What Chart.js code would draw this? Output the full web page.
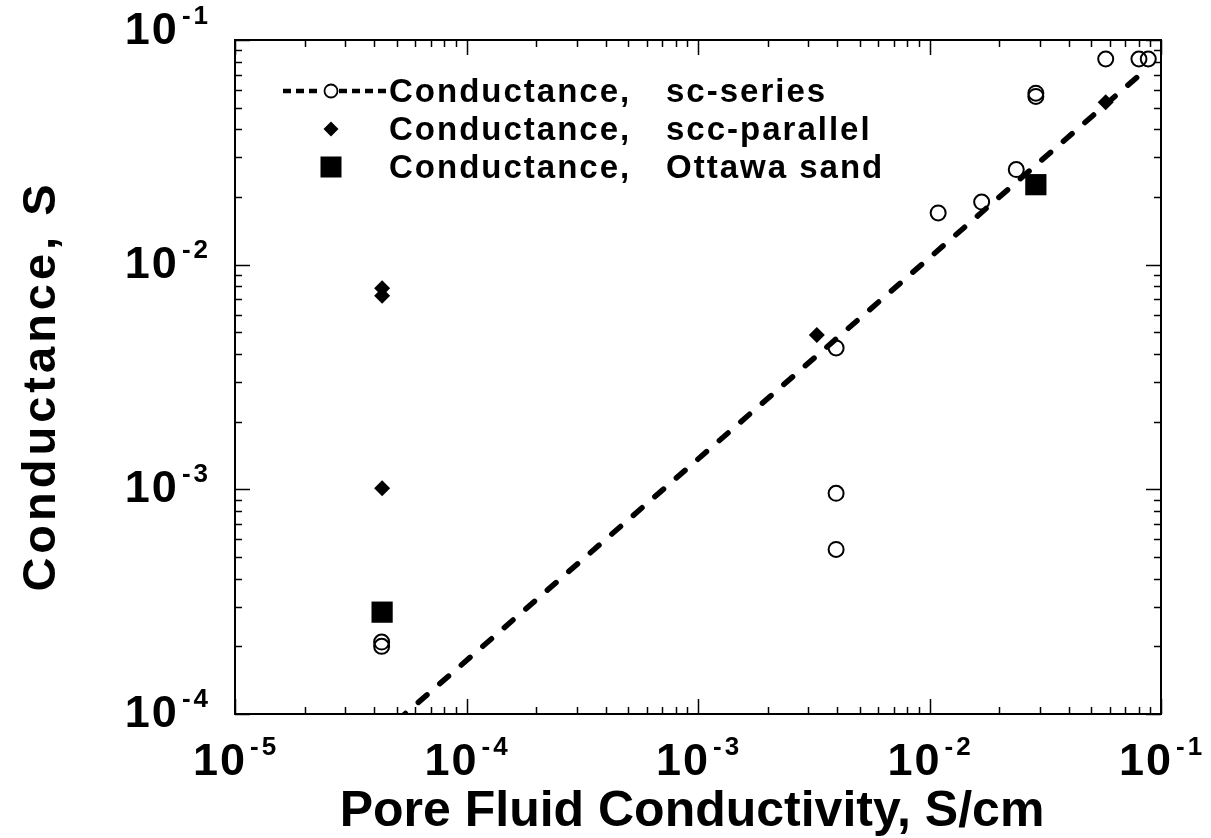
<!DOCTYPE html>
<html>
<head>
<meta charset="utf-8">
<script src="https://cdn.jsdelivr.net/npm/chart.js@4.4.1/dist/chart.umd.min.js"></script>
<style>
html,body{margin:0;padding:0;background:#fff;}
#wrap{width:1211px;height:838px;}
</style>
</head>
<body>
<div id="wrap"><canvas id="c" width="1211" height="838"></canvas></div>
<script>
// ---- data ----
const seriesLabels = ['Conductance,  sc-series', 'Conductance,  scc-parallel', 'Conductance,  Ottawa sand'];
const scX  = [4.3e-5, 4.3e-5, 3.95e-3, 3.95e-3, 3.95e-3, 0.0109, 0.0168, 0.0237, 0.0288, 0.0288, 0.0577, 0.0803, 0.0881];
const scY  = [2.09e-4, 2.0e-4, 4.26e-3, 9.6e-4, 5.4e-4, 0.0170, 0.0190, 0.0265, 0.0580, 0.0561, 0.0823, 0.0823, 0.0823];
const sccX = [4.32e-5, 4.32e-5, 4.32e-5, 3.26e-3, 0.0577];
const sccY = [7.85e-3, 7.28e-3, 1.01e-3, 4.86e-3, 0.0528];
const ottX = [4.32e-5, 0.0288];
const ottY = [2.84e-4, 0.0227];
const fitX = [5.0e-5, 0.085];
const fitY = [9.3e-5, 0.0731];
const xTickExps = [-5, -4, -3, -2, -1];
const yTickExps = [-4, -3, -2, -1];
const xTitle = 'Pore Fluid Conductivity, S/cm';
const yTitle = 'Conductance, S';

const pts = (xs, ys) => xs.map((x, i) => ({x: x, y: ys[i]}));
const FONT = '"Liberation Sans", Arial, Helvetica, sans-serif';

function setSpacing(ctx, px) {
  if ('letterSpacing' in ctx) ctx.letterSpacing = px + 'px';
}

const decorPlugin = {
  id: 'decor',
  afterDraw(chart) {
    const ctx = chart.ctx;
    const a = chart.chartArea;
    const xs = chart.scales.x, ys = chart.scales.y;
    ctx.save();
    ctx.strokeStyle = '#000';
    ctx.fillStyle = '#000';

    // frame
    ctx.lineWidth = 2;
    ctx.strokeRect(a.left, a.top, a.right - a.left, a.bottom - a.top);

    // inward ticks on all four sides
    ctx.lineWidth = 1.5;
    ctx.beginPath();
    for (let e = xTickExps[0]; e <= xTickExps[xTickExps.length - 1]; e++) {
      for (let m = 1; m <= 9; m++) {
        if (e === xTickExps[xTickExps.length - 1] && m > 1) break;
        const px = Math.round(xs.getPixelForValue(m * Math.pow(10, e))) + 0.5;
        const len = m === 1 ? 15 : 7;
        ctx.moveTo(px, a.bottom); ctx.lineTo(px, a.bottom - len);
        ctx.moveTo(px, a.top); ctx.lineTo(px, a.top + len);
      }
    }
    for (let e = yTickExps[0]; e <= yTickExps[yTickExps.length - 1]; e++) {
      for (let m = 1; m <= 9; m++) {
        if (e === yTickExps[yTickExps.length - 1] && m > 1) break;
        const py = Math.round(ys.getPixelForValue(m * Math.pow(10, e))) + 0.5;
        const len = m === 1 ? 15 : 7;
        ctx.moveTo(a.left, py); ctx.lineTo(a.left + len, py);
        ctx.moveTo(a.right, py); ctx.lineTo(a.right - len, py);
      }
    }
    ctx.stroke();

    // tick labels
    ctx.textAlign = 'left';
    ctx.textBaseline = 'alphabetic';
    const baseFont = 'bold 45px ' + FONT;
    const supFont = 'bold 26px ' + FONT;
    function measure(t, f, sp) { ctx.font = f; setSpacing(ctx, sp); return ctx.measureText(t).width; }
    xTickExps.forEach(e => {
      const px = xs.getPixelForValue(Math.pow(10, e));
      const sup = String(e);
      const w10 = measure('10', baseFont, 2), ws = measure(sup, supFont, 3);
      const gap = 3;
      const start = px - (w10 + gap + ws) / 2 + 1;
      ctx.font = baseFont; setSpacing(ctx, 2);
      ctx.fillText('10', start, a.bottom + 61);
      ctx.font = supFont; setSpacing(ctx, 3);
      ctx.fillText(sup, start + w10 + gap, a.bottom + 41);
    });
    const yTop = yTickExps[yTickExps.length - 1];
    yTickExps.forEach(e => {
      const py = ys.getPixelForValue(Math.pow(10, e));
      const sup = String(e);
      const w10 = measure('10', baseFont, 2), ws = measure(sup, supFont, 3);
      const gap = 3;
      const supStart = 211 - ws;
      const off = e === yTop ? 4 : 13;
      ctx.font = supFont; setSpacing(ctx, 3);
      ctx.fillText(sup, supStart, py + off - 20);
      ctx.font = baseFont; setSpacing(ctx, 2);
      ctx.fillText('10', supStart - gap - w10, py + off);
    });

    // axis titles
    ctx.font = 'bold 50px ' + FONT; setSpacing(ctx, 0);
    ctx.textAlign = 'center';
    ctx.fillText(xTitle, 692, 826);

    ctx.save();
    ctx.translate(55, 388);
    ctx.rotate(-Math.PI / 2);
    ctx.font = 'bold 47px ' + FONT; setSpacing(ctx, 4);
    ctx.textAlign = 'center';
    ctx.fillText(yTitle, 2, 0);
    ctx.restore();

    // legend
    const ds = chart.data.datasets;
    ctx.textAlign = 'left';
    ctx.font = 'bold 33px ' + FONT; setSpacing(ctx, 2);
    const textX = 389, text2X = 666;
    const rows = [91, 129, 167];
    function legendText(label, y) {
      const parts = label.split('  ');
      ctx.fillText(parts[0], textX, y);
      if (parts[1]) ctx.fillText(parts[1], text2X, y);
    }
    // row 1: dashed line with open circle
    ctx.save();
    ctx.lineWidth = 4.5;
    ctx.lineCap = 'butt';
    ctx.setLineDash([8, 5]);
    ctx.beginPath();
    ctx.moveTo(283, rows[0]); ctx.lineTo(322, rows[0]);
    ctx.moveTo(339, rows[0]); ctx.lineTo(387, rows[0]);
    ctx.stroke();
    ctx.setLineDash([]);
    ctx.lineWidth = 1.8;
    ctx.beginPath(); ctx.arc(331, rows[0], 6.5, 0, Math.PI * 2); ctx.stroke();
    ctx.restore();
    legendText(ds[1].label, rows[0] + 11);
    // row 2: diamond
    ctx.beginPath();
    ctx.moveTo(331 - 7.5, rows[1]); ctx.lineTo(331, rows[1] - 7.5);
    ctx.lineTo(331 + 7.5, rows[1]); ctx.lineTo(331, rows[1] + 7.5); ctx.closePath();
    ctx.fill();
    legendText(ds[2].label, rows[1] + 11);
    // row 3: square
    ctx.fillRect(331 - 10.5, rows[2] - 10.5, 21, 21);
    legendText(ds[3].label, rows[2] + 11);

    ctx.restore();
  }
};

new Chart(document.getElementById('c'), {
  type: 'scatter',
  data: {
    datasets: [
      {
        label: 'fit',
        data: pts(fitX, fitY),
        showLine: true,
        borderColor: '#000',
        borderWidth: 5.5,
        borderDash: [11.5, 17],
        borderCapStyle: 'round',
        pointRadius: 0,
        fill: false
      },
      {
        label: seriesLabels[0],
        data: pts(scX, scY),
        pointStyle: 'circle',
        pointRadius: 7.5,
        pointBorderWidth: 2,
        borderColor: '#000',
        backgroundColor: 'rgba(0,0,0,0)',
        clip: false
      },
      {
        label: seriesLabels[1],
        data: pts(sccX, sccY),
        pointStyle: 'rectRot',
        pointRadius: 8,
        pointBorderWidth: 0,
        borderColor: '#000',
        backgroundColor: '#000',
        clip: false
      },
      {
        label: seriesLabels[2],
        data: pts(ottX, ottY),
        pointStyle: 'rect',
        pointRadius: 15,
        pointBorderWidth: 0,
        borderColor: '#000',
        backgroundColor: '#000',
        clip: false
      }
    ]
  },
  options: {
    responsive: false,
    animation: false,
    devicePixelRatio: 1,
    events: [],
    layout: { padding: { top: 40, right: 50, left: 0, bottom: 0 } },
    plugins: { legend: { display: false }, tooltip: { enabled: false }, title: { display: false } },
    scales: {
      x: {
        type: 'logarithmic', min: 1e-5, max: 1e-1,
        grid: { display: false }, border: { display: false },
        ticks: { display: false },
        afterFit: s => { s.height = 124; }
      },
      y: {
        type: 'logarithmic', min: 1e-4, max: 1e-1,
        grid: { display: false }, border: { display: false },
        ticks: { display: false },
        afterFit: s => { s.width = 235; }
      }
    }
  },
  plugins: [decorPlugin]
});
</script>
</body>
</html>
